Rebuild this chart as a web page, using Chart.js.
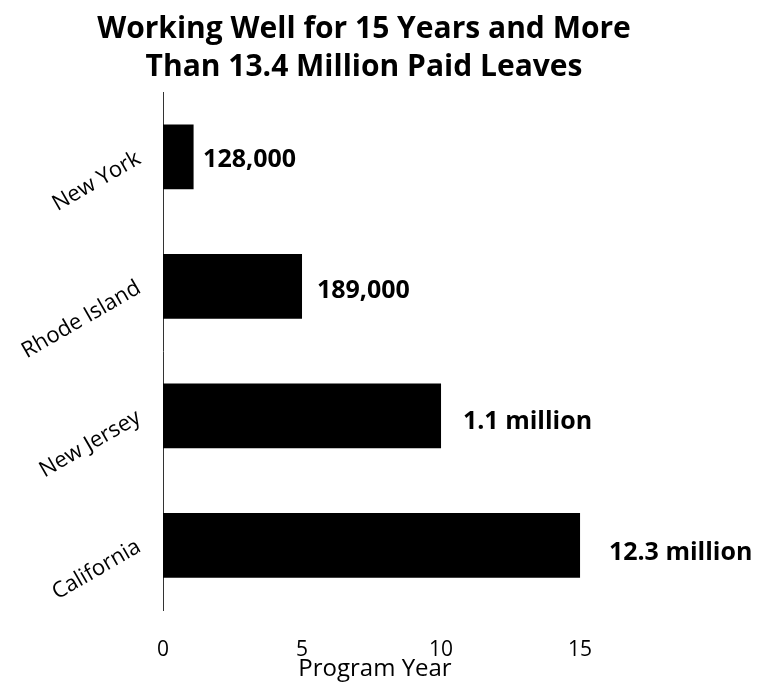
<!DOCTYPE html>
<html>
<head>
<meta charset="utf-8">
<script src="https://cdn.jsdelivr.net/npm/chart.js@4/dist/chart.umd.min.js"></script>
<style>
  html, body { margin: 0; padding: 0; background: #fff; }
  #wrap { width: 766px; height: 686px; }
</style>
</head>
<body>
<div id="wrap"><canvas id="leaveChart" width="766" height="686"></canvas></div>
<script>
// Chart data
const states = ['New York', 'Rhode Island', 'New Jersey', 'California'];
const programYears = [1.1, 5, 10, 15];
const paidLeaves = ['128,000', '189,000', '1.1 million', '12.3 million'];
const yearTicks = [0, 5, 10, 15];

const FONT = "'Open Sans', 'Noto Sans', sans-serif";

// Draw the paid-leave counts to the right of each bar
const barValueLabels = {
    id: 'barValueLabels',
    afterDatasetsDraw(chart) {
        const ctx = chart.ctx;
        const meta = chart.getDatasetMeta(0);
        ctx.save();
        ctx.font = 'bold 25px ' + FONT;
        ctx.fillStyle = '#000';
        ctx.textAlign = 'left';
        ctx.textBaseline = 'middle';
        meta.data.forEach((bar, i) => {
            // labels sit a little further out on the longer bars
            const len = bar.x - bar.base;
            ctx.fillText(paidLeaves[i], bar.base + len * 1.05 + 8, bar.y + 3 + i * 1.5);
        });
        ctx.restore();
    }
};

new Chart(document.getElementById('leaveChart').getContext('2d'), {
    type: 'bar',
    data: {
        labels: states,
        datasets: [{
            data: programYears,
            backgroundColor: '#000',
            borderWidth: 0,
            barPercentage: 0.5,
            categoryPercentage: 1
        }]
    },
    options: {
        indexAxis: 'y',
        responsive: false,
        animation: false,
        layout: {
            padding: { top: 10, right: 38, bottom: 4, left: 0 }
        },
        plugins: {
            legend: { display: false },
            tooltip: { enabled: false },
            title: {
                display: true,
                text: ['Working Well for 15 Years and More', 'Than 13.4 Million Paid Leaves'],
                color: '#000',
                font: { family: FONT, size: 30, weight: 'bold', lineHeight: 1.27 },
                padding: { top: 0, bottom: 6 }
            }
        },
        scales: {
            x: {
                min: 0,
                max: 15.25,
                afterBuildTicks: (scale) => {
                    scale.ticks = yearTicks.map(v => ({ value: v }));
                },
                afterFit: (scale) => { scale.height = 72; },
                grid: { display: false, drawTicks: false },
                border: { display: false },
                ticks: {
                    color: '#000',
                    padding: 30,
                    font: { family: FONT, size: 21, lineHeight: 1 }
                },
                title: {
                    display: true,
                    text: 'Program Year',
                    color: '#000',
                    padding: { top: 0, bottom: 0 },
                    font: { family: FONT, size: 24, lineHeight: 1.1 }
                }
            },
            y: {
                afterFit: (scale) => { scale.width = 163; },
                grid: { display: false, drawTicks: false },
                border: { display: true, color: '#333', width: 1, dash: [1, 3] },
                ticks: {
                    color: '#000',
                    padding: 24,
                    minRotation: 30,
                    maxRotation: 30,
                    font: { family: FONT, size: 22 }
                }
            },
            // empty right-hand axis keeps room for the value labels
            labelRoom: {
                type: 'linear',
                axis: 'y',
                position: 'right',
                afterFit: (scale) => { scale.width = 141; },
                grid: { display: false, drawTicks: false },
                border: { display: false },
                ticks: { display: false }
            }
        }
    },
    plugins: [barValueLabels]
});
</script>
</body>
</html>
